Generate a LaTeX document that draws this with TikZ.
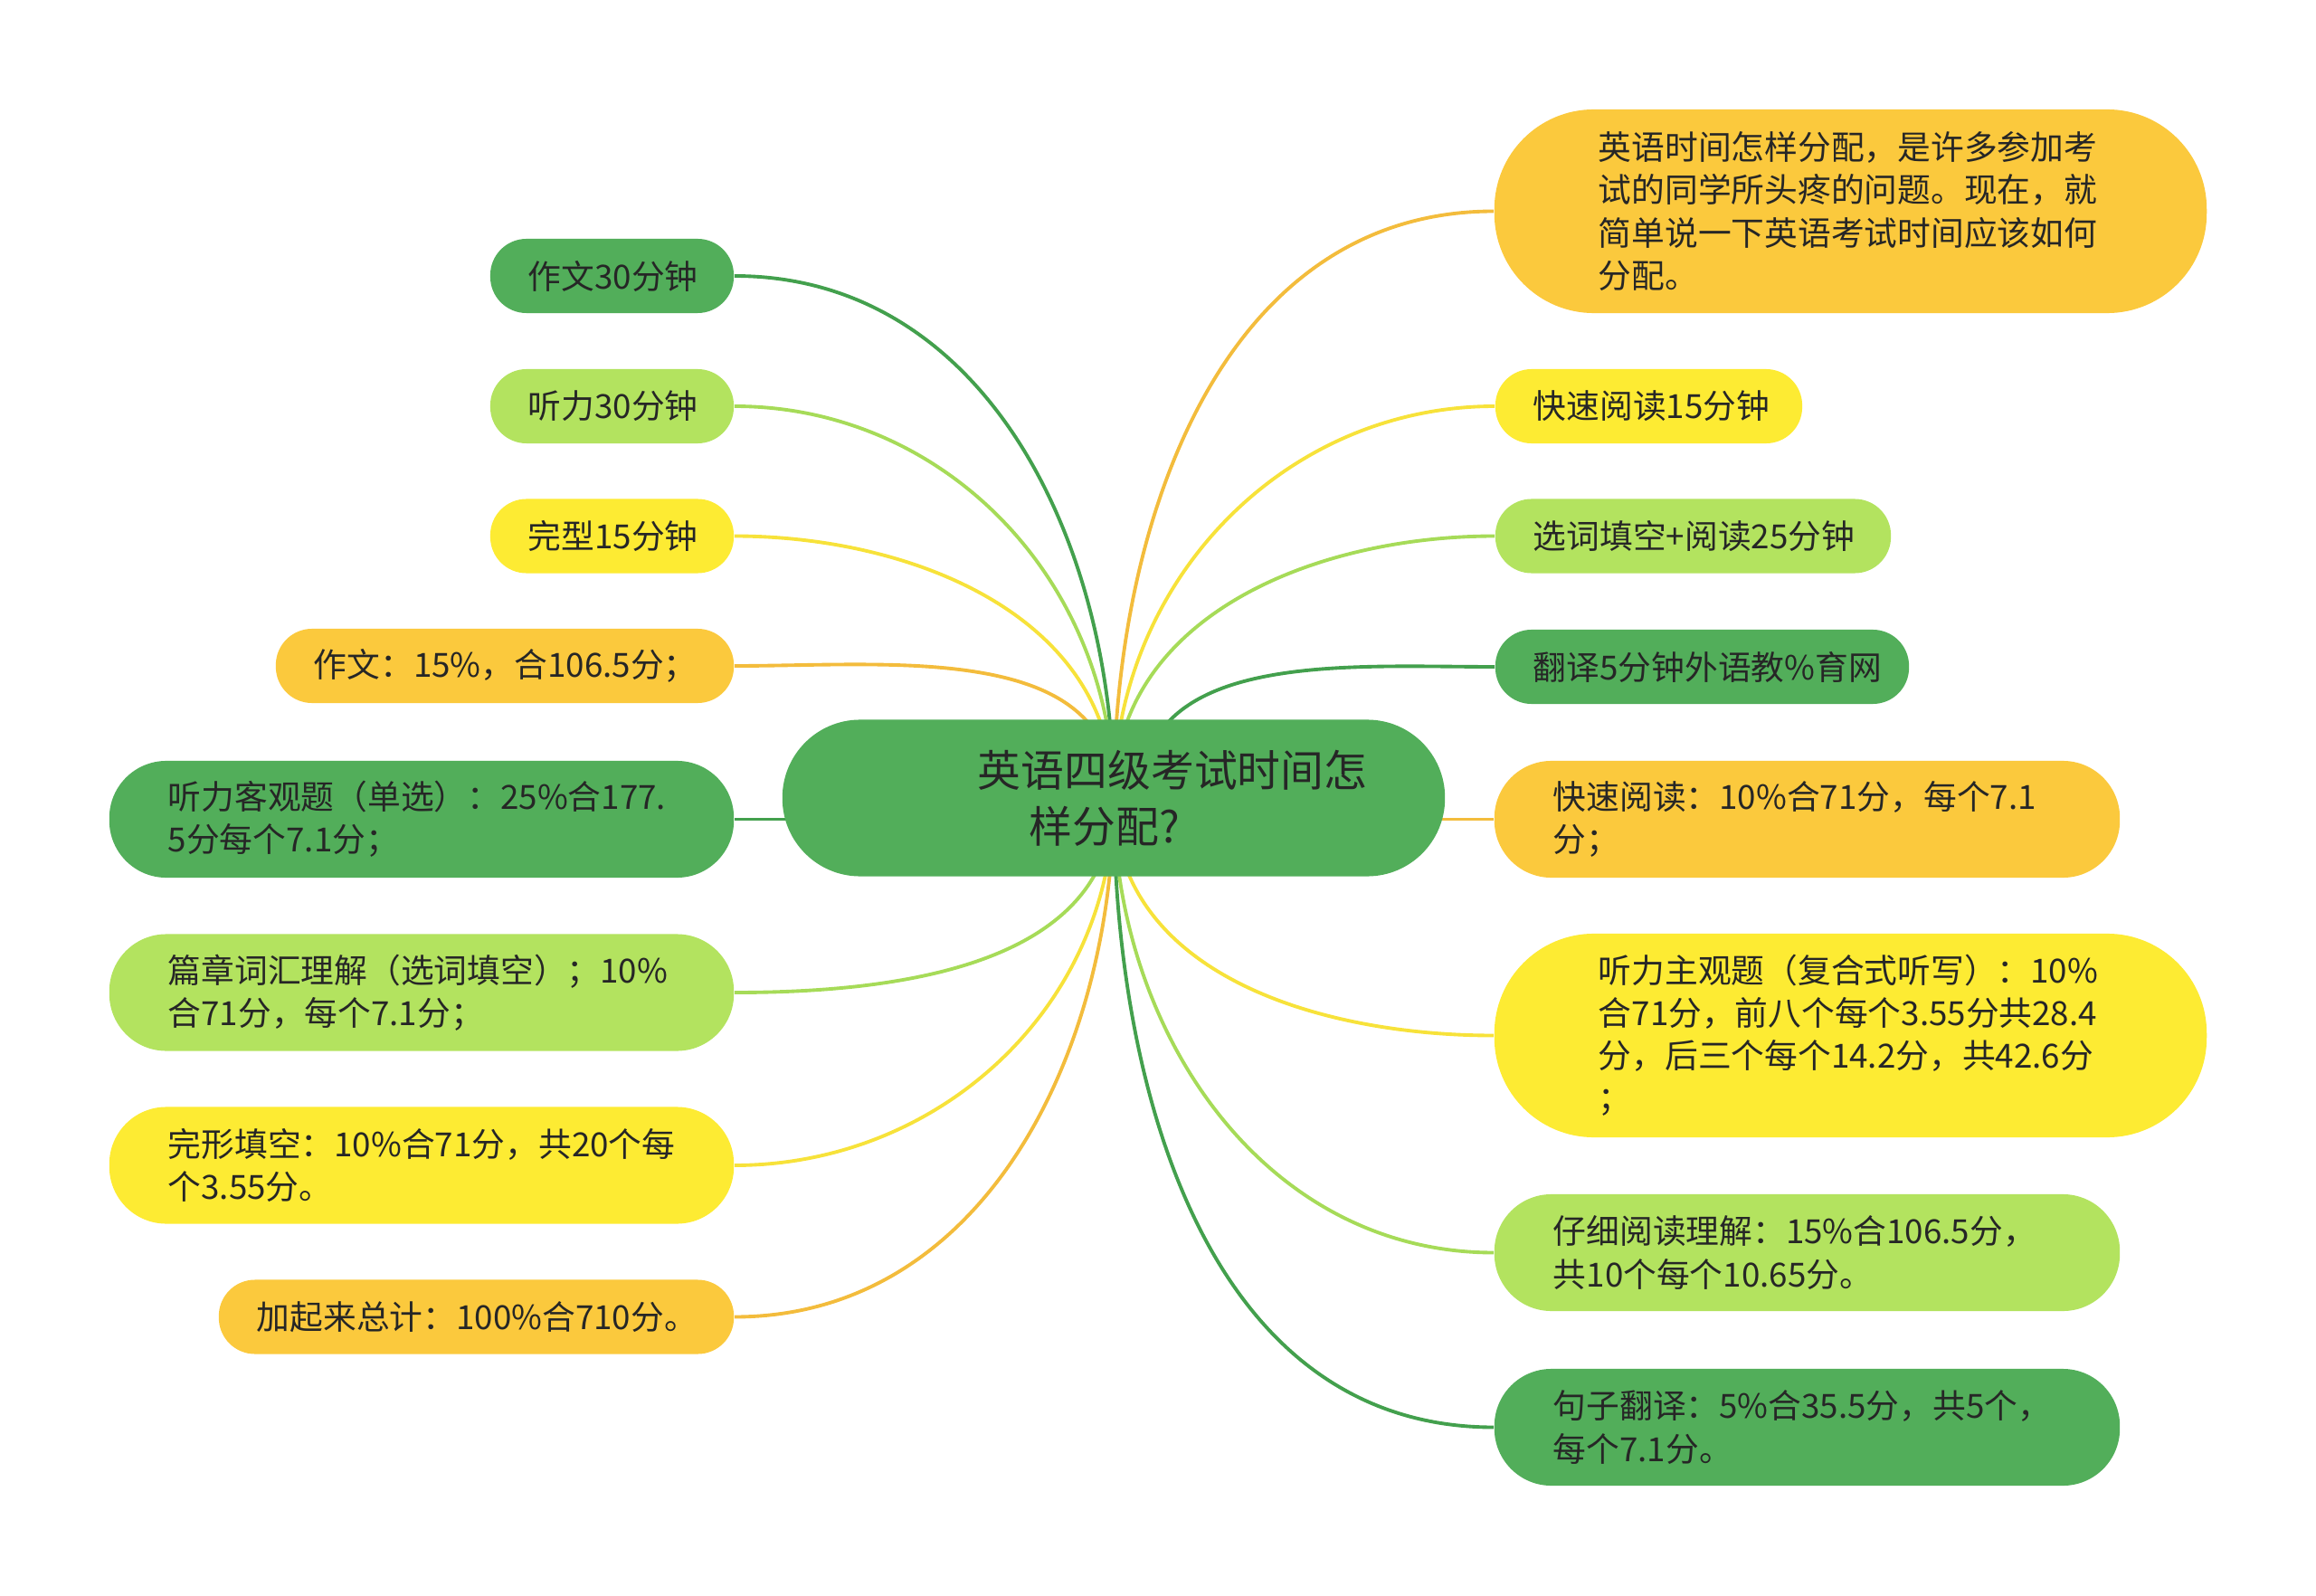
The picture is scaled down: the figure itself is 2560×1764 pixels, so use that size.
\documentclass[tikz,border=0pt]{standalone}
\usepackage{fontspec}
\setmainfont{Noto Sans CJK SC}
\usetikzlibrary{backgrounds}
\definecolor{dgreen}{HTML}{52AE5A}
\definecolor{lgreen}{HTML}{B3E35F}
\definecolor{yel}{HTML}{FDEB33}
\definecolor{orng}{HTML}{FBC93D}
\definecolor{dgline}{HTML}{43A04D}
\definecolor{lgline}{HTML}{A6DB58}
\definecolor{yline}{HTML}{F7E23A}
\definecolor{oline}{HTML}{F3BC3C}
\definecolor{txt}{HTML}{262626}
\tikzset{
  leaf/.style={shape=rectangle, inner ysep=0pt, align=left, text=txt,
    font=\fontsize{10.45pt}{13.4pt}\selectfont},
  one/.style={leaf, minimum height=0.82cm, rounded corners=0.4cm, inner xsep=0.42cm},
  two/.style={leaf, minimum height=1.29cm, rounded corners=0.63cm, inner xsep=0.65cm},
  four/.style={leaf, minimum height=2.25cm, rounded corners=1.1cm, inner xsep=1.15cm},
  fdg/.style={fill=dgreen}, flg/.style={fill=lgreen},
  fyl/.style={fill=yel}, for/.style={fill=orng},
  link/.style={line width=1.1pt},
  cdg/.style={link, draw=dgline}, clg/.style={link, draw=lgline},
  cyl/.style={link, draw=yline}, cor/.style={link, draw=oline},
}
\begin{document}
\begin{tikzpicture}[x=0.01cm, y=-0.01cm]
\useasboundingbox (0,0) rectangle (2560,1764);
% root
\node[fill=dgreen, rounded corners=0.86cm, minimum height=1.73cm, text width=7.32cm,
  inner xsep=0pt, inner ysep=0pt, align=left, text=txt,
  font=\fontsize{13.6pt}{17.6pt}\selectfont] (root) at (1231,882)
  {\hspace*{2.16cm}英语四级考试时间怎\\\hspace*{2.73cm}样分配?};
% left side
\node[one, fdg, text width=1.85cm] (L1) at (676.5,305) {作文30分钟};
\node[one, flg, text width=1.85cm] (L2) at (676.5,449) {听力30分钟};
\node[one, fyl, text width=1.85cm] (L3) at (676.5,592.5) {完型15分钟};
\node[one, for, text width=4.22cm] (L4) at (558,736) {作文：15\%，合106.5分；};
\node[two, fdg, text width=5.6cm] (L5) at (466,905.5) {听力客观题（单选）：25\%合177.\\5分每个7.1分；};
\node[two, flg, text width=5.6cm] (L6) at (466,1097) {篇章词汇理解（选词填空）；10\%\\合71分，每个7.1分；};
\node[two, fyl, text width=5.6cm] (L7) at (466,1288) {完形填空：10\%合71分，共20个每\\个3.55分。};
\node[one, for, text width=4.85cm] (L8) at (526.5,1455.5) {加起来总计：100\%合710分。};
% right side
\node[four, for, text width=5.57cm] (R1) at (2045.5,233.5) {英语时间怎样分配，是许多参加考\\试的同学所头疼的问题。现在，就\\简单说一下英语考试时间应该如何\\分配。};
\node[one, fyl, text width=2.55cm] (R2) at (1822.5,449) {快速阅读15分钟};
\node[one, flg, text width=3.53cm] (R3) at (1871.5,592.5) {选词填空+阅读25分钟};
\node[one, fdg, text width=3.73cm] (R4) at (1881.5,737) {翻译5分钟外语教\%育网};
\node[two, for, text width=5.61cm] (R5) at (1997.5,905.5) {快速阅读：10\%合71分，每个7.1\\分；};
\node[four, fyl, text width=5.57cm] (R6) at (2045.5,1144.5) {听力主观题（复合式听写）：10\%\\合71分，前八个每个3.55分共28.4\\分，后三个每个14.2分，共42.6分\\；};
\node[two, flg, text width=5.61cm] (R7) at (1997.5,1384.5) {仔细阅读理解：15\%合106.5分，\\共10个每个10.65分。};
\node[two, fdg, text width=5.61cm] (R8) at (1997.5,1577.5) {句子翻译：5\%合35.5分，共5个，\\每个7.1分。};
% connectors
\begin{pgfonlayer}{background}
\draw[cdg] (root.center) to[out=90,in=0] (L1.east);
\draw[clg] (root.center) to[out=90,in=0] (L2.east);
\draw[cyl] (root.center) to[out=90,in=0] (L3.east);
\draw[cor] (root.center) to[out=90,in=0] (L4.east);
\draw[cdg] (L5.east) -- (L5.east -| root.center);
\draw[clg] (root.center) to[out=-90,in=0] (L6.east);
\draw[cyl] (root.center) to[out=-90,in=0] (L7.east);
\draw[cor] (root.center) to[out=-90,in=0] (L8.east);
\draw[cor] (root.center) to[out=90,in=180] (R1.west);
\draw[cyl] (root.center) to[out=90,in=180] (R2.west);
\draw[clg] (root.center) to[out=90,in=180] (R3.west);
\draw[cdg] ([xshift=0.3cm]root.center) to[out=90,in=180] (R4.west);
\draw[cor] (R5.west) -- (R5.west -| root.center);
\draw[cyl] (root.center) to[out=-90,in=180] (R6.west);
\draw[clg] (root.center) to[out=-90,in=180] (R7.west);
\draw[cdg] (root.center) to[out=-90,in=180] (R8.west);
\end{pgfonlayer}
\end{tikzpicture}
\end{document}
